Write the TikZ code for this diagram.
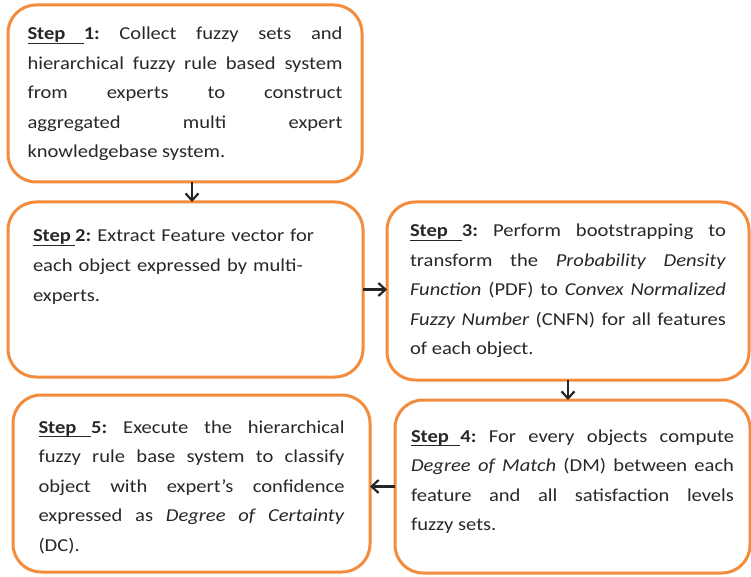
\documentclass[tikz,border=0pt]{standalone}
\usepackage{fontspec}
\setmainfont{Carlito}[FakeStretch=1.13]
\usetikzlibrary{arrows.meta}
\usetikzlibrary{positioning}
\definecolor{boxorange}{RGB}{243,140,60}
\definecolor{textgray}{RGB}{40,40,40}
\tikzset{
  stepbox/.style={
    rectangle,
    rounded corners=28pt,
    draw=boxorange, line width=3pt,
    outer sep=0pt,
    inner ysep=0pt,
    text=textgray,
    align=justify,
    font=\fontsize{18.2}{29.5}\selectfont,
  },
}
% underlined step label, the gap between the words stretches with the line
\newcommand{\ulword}[1]{\sbox0{#1}\rlap{\usebox0}\leaders\hrule height -2.6pt depth 3.8pt\hskip\wd0\relax}
\newcommand{\ulspace}{\leaders\hrule height -2.6pt depth 3.8pt\hskip 0.23em plus 0.12em minus 0.06em\relax}
\newcommand{\steplbl}[1]{\textbf{\ulword{Step}\ulspace\ulword{#1:}}}

\begin{document}
\begin{tikzpicture}[->,>={Straight Barb[length=7pt,width=13pt]},line width=2.2pt,draw=black!85]
  \useasboundingbox (0,0) rectangle (751pt,576pt);
  \node[stepbox, anchor=north west, text width=315pt, inner xsep=19.5pt,
    text height=35pt, text depth=142pt] (s1) at (8pt,571pt)
  {
    \steplbl{1} Collect fuzzy sets and\linebreak
    hierarchical fuzzy rule based system\linebreak
    from experts to construct\linebreak
    aggregated multi expert\linebreak
    knowledgebase system.
  };
  \node[stepbox, align=left, below=20pt of s1.south west, anchor=north west,
    text width=305pt, inner xsep=25pt, text height=40pt, text depth=135pt] (s2)
  {
    \steplbl{2} Extract Feature vector for\\
    each object expressed by multi-\\
    experts.
  };
  \node[stepbox, right=24pt of s2.north east, anchor=north west,
    text width=316pt, inner xsep=23pt, text height=35pt, text depth=143pt] (s3)
  {
    \steplbl{3} Perform bootstrapping to\linebreak
    transform the \textit{Probability Density}\linebreak
    \textit{Function} (PDF) to \textit{Convex Normalized}\linebreak
    \textit{Fuzzy Number} (CNFN) for all features\linebreak
    of each object.
  };
  \node[stepbox, below=20pt of s3.south east, anchor=north east, xshift=1pt,
    text width=323pt, inner xsep=16pt, text height=42pt, text depth=131pt] (s4)
  {
    \steplbl{4} For every objects compute\linebreak
    \textit{Degree of Match} (DM) between each\linebreak
    feature and all satisfaction levels\linebreak
    fuzzy sets.
  };
  \node[stepbox, left=25pt of s4.north west, anchor=north east, yshift=5pt,
    text width=306pt, inner xsep=25.5pt, text height=38pt, text depth=139pt] (s5)
  {
    \steplbl{5} Execute the hierarchical\linebreak
    fuzzy rule base system to classify\linebreak
    object with expert's confidence\linebreak
    expressed as \textit{Degree of Certainty}\linebreak
    (DC).
  };
  % flow between the steps
  \draw ([xshift=7pt]s1.south) -- ([xshift=7pt]s1.south |- s2.north);
  \draw (s2.east) -- (s2.east -| s3.west);
  \draw (s3.south) -- (s3.south |- s4.north);
  \draw (s4.west) -- (s4.west -| s5.east);
\end{tikzpicture}
\end{document}
